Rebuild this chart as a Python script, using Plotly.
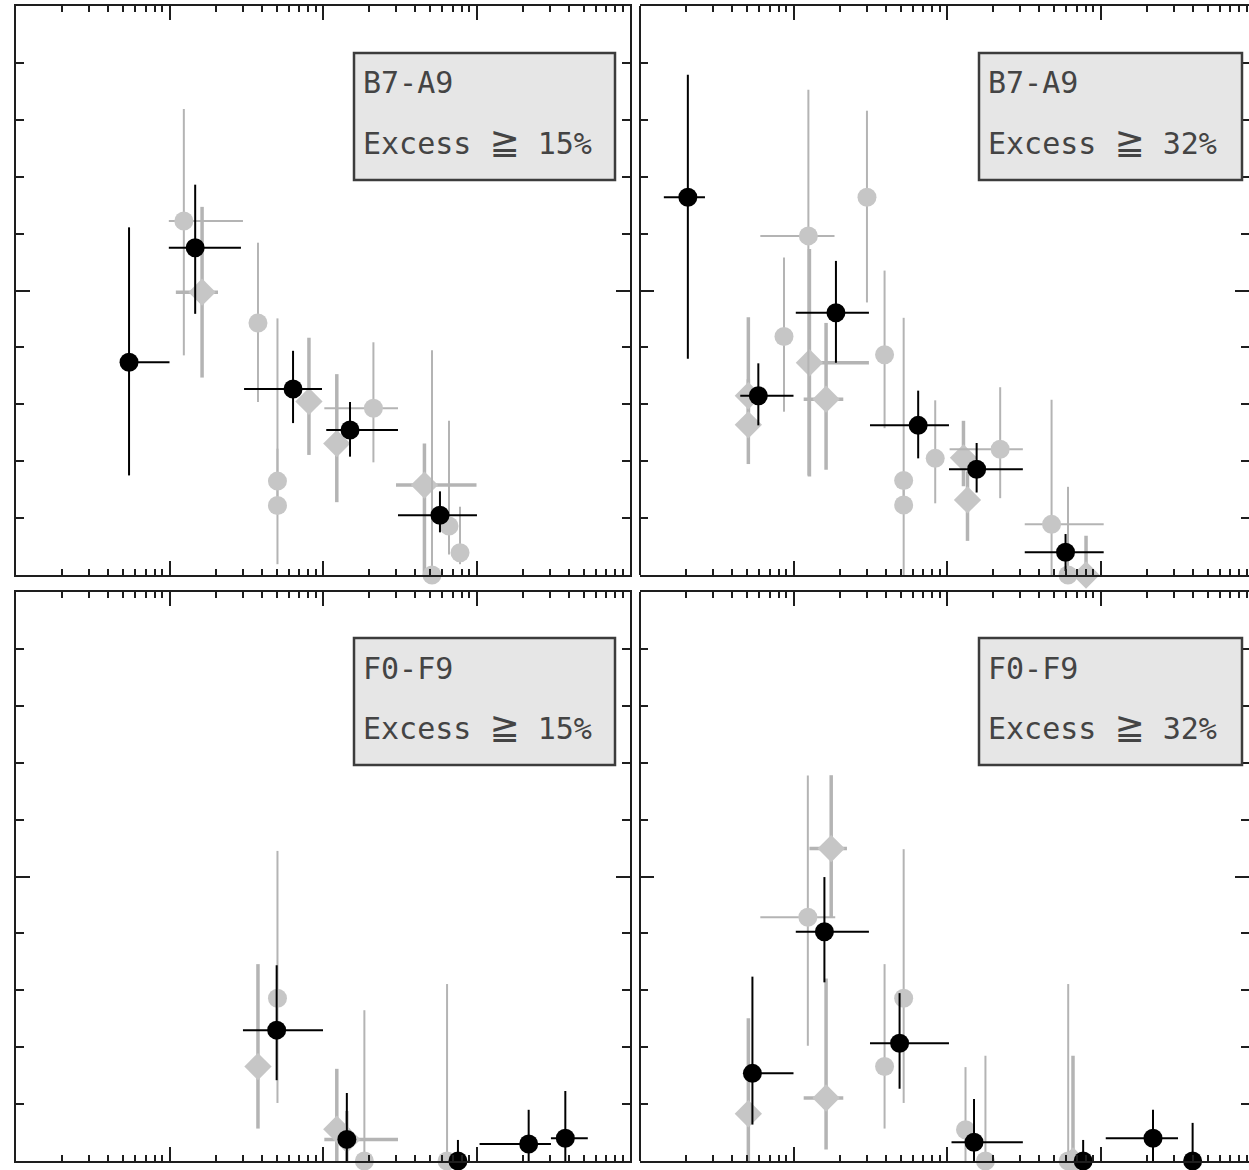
import plotly.graph_objects as go
from plotly.subplots import make_subplots

# ---------------- data: fraction of stars with excess vs. age (Myr) ----------------
# Panel 1: B7-A9, Excess >= 15%
b15_age      = [5.45, 14.7, 63.8, 150, 578]
b15_frac     = [0.374, 0.575, 0.327, 0.255, 0.105]
b15_age_lo   = [5.3, 9.9, 30.6, 105, 308]
b15_age_hi   = [10.0, 29.2, 98.5, 308, 1007]
b15_err_up   = [0.237, 0.111, 0.067, 0.049, 0.042]
b15_err_dn   = [0.199, 0.116, 0.060, 0.047, 0.030]

b15_lit1_age    = [12.4, 37.7, 50.5, 50.5, 213, 513, 662, 781]
b15_lit1_frac   = [0.622, 0.443, 0.165, 0.122, 0.293, 0.0, 0.086, 0.039]
b15_lit1_age_lo = [9.9, 37.7, 50.5, 50.5, 102, 513, 662, 781]
b15_lit1_age_hi = [30.1, 37.7, 50.5, 50.5, 308, 513, 662, 781]
b15_lit1_up     = [0.197, 0.141, 0.286, 0.10, 0.116, 0.395, 0.185, 0.081]
b15_lit1_dn     = [0.236, 0.139, 0.05, 0.103, 0.095, 0.0, 0.05, 0.02]

b15_lit2_age    = [16.3, 81, 123, 458]
b15_lit2_frac   = [0.497, 0.305, 0.231, 0.158]
b15_lit2_age_lo = [11.0, 81, 123, 299]
b15_lit2_age_hi = [20.7, 81, 123, 1000]
b15_lit2_up     = [0.150, 0.112, 0.122, 0.073]
b15_lit2_dn     = [0.150, 0.094, 0.103, 0.158]

# Panel 2: B7-A9, Excess >= 32%
b32_age      = [2.05, 5.9, 18.9, 64.9, 156, 592]
b32_frac     = [0.664, 0.315, 0.461, 0.263, 0.186, 0.040]
b32_age_lo   = [1.43, 4.5, 10.35, 31.5, 103, 321]
b32_age_hi   = [2.65, 10.0, 31.0, 103, 312, 1049]
b32_err_up   = [0.215, 0.057, 0.091, 0.061, 0.046, 0.032]
b32_err_dn   = [0.284, 0.052, 0.088, 0.058, 0.041, 0.033]

b32_lit1_age    = [8.67, 12.5, 30.1, 39.2, 52.2, 52.2, 83.8, 222, 480, 614]
b32_lit1_frac   = [0.419, 0.596, 0.664, 0.387, 0.166, 0.123, 0.205, 0.221, 0.089, 0.0]
b32_lit1_age_lo = [8.67, 6.08, 30.1, 39.2, 52.2, 52.2, 83.8, 104, 321, 614]
b32_lit1_age_hi = [8.67, 18.5, 30.1, 39.2, 52.2, 52.2, 83.8, 312, 1049, 614]
b32_lit1_up     = [0.139, 0.257, 0.152, 0.148, 0.286, 0.03, 0.102, 0.109, 0.219, 0.155]
b32_lit1_dn     = [0.132, 0.421, 0.185, 0.129, 0.03, 0.123, 0.079, 0.086, 0.089, 0.0]

b32_lit2_age    = [5.08, 5.08, 12.7, 16.3, 128, 136, 805]
b32_lit2_frac   = [0.315, 0.264, 0.373, 0.309, 0.206, 0.132, 0.0]
b32_lit2_age_lo = [4.6, 5.08, 12.7, 11.65, 128, 136, 805]
b32_lit2_age_hi = [5.6, 5.08, 31.0, 21.1, 128, 136, 805]
b32_lit2_up     = [0.138, 0.08, 0.20, 0.134, 0.065, 0.05, 0.069]
b32_lit2_dn     = [0.05, 0.069, 0.20, 0.124, 0.05, 0.072, 0.0]

# Panel 3: F0-F9, Excess >= 15%
f15_age      = [49.9, 143, 757, 2187, 3790]
f15_frac     = [0.230, 0.038, 0.0, 0.030, 0.040]
f15_age_lo   = [30.1, 143, 757, 1047, 3055]
f15_age_hi   = [100, 143, 757, 3055, 5310]
f15_err_up   = [0.114, 0.0815, 0.037, 0.060, 0.083]
f15_err_dn   = [0.088, 0.038, 0.0, 0.030, 0.040]

f15_lit1_age    = [50.5, 186, 643]
f15_lit1_frac   = [0.286, 0.0, 0.0]
f15_lit1_age_lo = [50.5, 186, 643]
f15_lit1_age_hi = [50.5, 186, 643]
f15_lit1_up     = [0.259, 0.265, 0.311]
f15_lit1_dn     = [0.184, 0.0, 0.0]

f15_lit2_age    = [37.7, 123, 143]
f15_lit2_frac   = [0.166, 0.056, 0.038]
f15_lit2_age_lo = [37.7, 123, 102]
f15_lit2_age_hi = [37.7, 123, 308]
f15_lit2_up     = [0.18, 0.106, 0.05]
f15_lit2_dn     = [0.109, 0.056, 0.038]

# Panel 4: F0-F9, Excess >= 32%
f32_age      = [5.4, 15.9, 49.1, 150, 771, 2198, 3982]
f32_frac     = [0.154, 0.403, 0.207, 0.033, 0.0, 0.040, 0.0]
f32_age_lo   = [5.3, 10.35, 31.5, 107, 771, 1082, 3982]
f32_age_hi   = [10.0, 31.0, 103, 312, 771, 3199, 3982]
f32_err_up   = [0.170, 0.096, 0.088, 0.076, 0.037, 0.050, 0.067]
f32_err_dn   = [0.09, 0.089, 0.080, 0.033, 0.0, 0.040, 0.0]

f32_lit1_age    = [12.4, 39.2, 52.2, 132, 178, 616]
f32_lit1_frac   = [0.4285, 0.166, 0.286, 0.055, 0.0, 0.0]
f32_lit1_age_lo = [6.08, 39.2, 52.2, 132, 178, 616]
f32_lit1_age_hi = [18.7, 39.2, 52.2, 132, 178, 616]
f32_lit1_up     = [0.249, 0.18, 0.262, 0.110, 0.185, 0.311]
f32_lit1_dn     = [0.226, 0.109, 0.184, 0.055, 0.0, 0.0]

f32_lit2_age    = [5.08, 17.6, 16.3, 662]
f32_lit2_frac   = [0.083, 0.549, 0.1107, 0.0]
f32_lit2_age_lo = [4.6, 12.7, 11.65, 662]
f32_lit2_age_hi = [5.6, 22.3, 21.1, 662]
f32_lit2_up     = [0.168, 0.129, 0.21, 0.185]
f32_lit2_dn     = [0.083, 0.122, 0.0905, 0.0]

GE = '<span style="font-family:DejaVu Sans;font-size:36px">≧</span>'
panel_labels = [("B7-A9", "Excess " + GE + " 15%"), ("B7-A9", "Excess " + GE + " 32%"),
                ("F0-F9", "Excess " + GE + " 15%"), ("F0-F9", "Excess " + GE + " 32%")]

# ---------------- layout geometry (pixels) ----------------
W, H = 1249, 1170
COLS = [(16, 630), (640, 1249)]
ROWS = [(6, 575), (592, 1161)]
DECADE_PX = 153.5

BLACK = "#000000"
GREY_MK = "#c6c6c6"
GREY_ERR = "#b4b4b4"
FRAME = "#1e1e1e"

fig = make_subplots(rows=2, cols=2)


def add_series(row, col, age, frac, lo, hi, up, dn, color, ecolor, symbol, size, ethick):
    fig.add_trace(go.Scatter(
        x=age, y=frac, mode="markers",
        marker=dict(color=color, size=size, symbol=symbol, line=dict(width=0)),
        error_x=dict(type="data", symmetric=False,
                     array=[h - a for h, a in zip(hi, age)],
                     arrayminus=[a - l for a, l in zip(age, lo)],
                     color=ecolor, thickness=ethick, width=0),
        error_y=dict(type="data", symmetric=False, array=up, arrayminus=dn,
                     color=ecolor, thickness=ethick, width=0),
        cliponaxis=False, showlegend=False, hoverinfo="x+y"),
        row=row, col=col)


panels = [
    (1, 1, (b15_age, b15_frac, b15_age_lo, b15_age_hi, b15_err_up, b15_err_dn),
     (b15_lit1_age, b15_lit1_frac, b15_lit1_age_lo, b15_lit1_age_hi, b15_lit1_up, b15_lit1_dn),
     (b15_lit2_age, b15_lit2_frac, b15_lit2_age_lo, b15_lit2_age_hi, b15_lit2_up, b15_lit2_dn)),
    (1, 2, (b32_age, b32_frac, b32_age_lo, b32_age_hi, b32_err_up, b32_err_dn),
     (b32_lit1_age, b32_lit1_frac, b32_lit1_age_lo, b32_lit1_age_hi, b32_lit1_up, b32_lit1_dn),
     (b32_lit2_age, b32_lit2_frac, b32_lit2_age_lo, b32_lit2_age_hi, b32_lit2_up, b32_lit2_dn)),
    (2, 1, (f15_age, f15_frac, f15_age_lo, f15_age_hi, f15_err_up, f15_err_dn),
     (f15_lit1_age, f15_lit1_frac, f15_lit1_age_lo, f15_lit1_age_hi, f15_lit1_up, f15_lit1_dn),
     (f15_lit2_age, f15_lit2_frac, f15_lit2_age_lo, f15_lit2_age_hi, f15_lit2_up, f15_lit2_dn)),
    (2, 2, (f32_age, f32_frac, f32_age_lo, f32_age_hi, f32_err_up, f32_err_dn),
     (f32_lit1_age, f32_lit1_frac, f32_lit1_age_lo, f32_lit1_age_hi, f32_lit1_up, f32_lit1_dn),
     (f32_lit2_age, f32_lit2_frac, f32_lit2_age_lo, f32_lit2_age_hi, f32_lit2_up, f32_lit2_dn)),
]

for row, col, main, lit1, lit2 in panels:
    add_series(row, col, *lit2, GREY_MK, GREY_ERR, "diamond", 21, 3.5)
    add_series(row, col, *lit1, GREY_MK, GREY_ERR, "circle", 19, 2.0)
    add_series(row, col, *main, BLACK, BLACK, "circle", 19, 2.0)

# ---------------- axes ----------------
major_x = [10 ** k for k in range(0, 5)]
minor_x = [m * 10 ** k for k in range(0, 4) for m in range(2, 10)]

for r, (ytop, ybot) in enumerate(ROWS, start=1):
    for c, (xl, xr) in enumerate(COLS, start=1):
        fig.update_xaxes(
            type="log", range=[0, (xr - xl) / DECADE_PX],
            domain=[xl / W, xr / W],
            showline=True, linecolor=FRAME, linewidth=2, mirror="ticks",
            ticks="inside", ticklen=14, tickwidth=1.5, tickcolor=FRAME,
            tickmode="array", tickvals=major_x, showticklabels=False,
            showgrid=False, zeroline=False,
            minor=dict(tickmode="array", tickvals=minor_x, ticks="inside",
                       ticklen=6, tickwidth=1.5, tickcolor=FRAME, showgrid=False),
            row=r, col=c)
        # the right-hand column runs off the page edge: its right frame line is not drawn
        fig.update_yaxes(
            range=[0, 1], domain=[1 - ybot / H, 1 - ytop / H],
            showline=(c == 1), linecolor=FRAME, linewidth=2, mirror="ticks",
            ticks="inside", ticklen=14, tickwidth=1.5, tickcolor=FRAME,
            tickmode="array", tickvals=[0, 0.5, 1], showticklabels=False,
            showgrid=False, zeroline=False,
            minor=dict(tick0=0, dtick=0.1, ticks="inside", ticklen=8,
                       tickwidth=1.5, tickcolor=FRAME, showgrid=False),
            row=r, col=c)

# left frame line of the right-hand panels
for xa, ya in (("x2", "y2"), ("x4", "y4")):
    fig.add_shape(type="line", xref=xa + " domain", yref=ya + " domain",
                  x0=0, x1=0, y0=0, y1=1, line=dict(color=FRAME, width=2), layer="above")

# ---------------- label boxes ----------------
BOX_X = [(354, 615), (979, 1242)]
BOX_Y = [(53, 180), (638, 765)]
for i, (line1, line2) in enumerate(panel_labels):
    r, c = divmod(i, 2)
    bx0, bx1 = BOX_X[c]
    by0, by1 = BOX_Y[r]
    fig.add_shape(type="rect", xref="paper", yref="paper",
                  x0=bx0 / W, x1=bx1 / W, y0=1 - by1 / H, y1=1 - by0 / H,
                  fillcolor="#e6e6e6", line=dict(color="#3c3c3c", width=2.5), layer="above")
    for txt, dy in ((line1, 30), (line2, 88)):
        fig.add_annotation(xref="paper", yref="paper", x=(bx0 + 7) / W, y=1 - (by0 + dy) / H,
                           xanchor="left", yanchor="middle", text=txt, showarrow=False,
                           font=dict(family="DejaVu Sans Mono", size=30, color="#444444"))

fig.update_layout(width=W, height=H, margin=dict(l=0, r=0, t=0, b=0),
                  paper_bgcolor="white", plot_bgcolor="white", showlegend=False)

fig.write_html("out.html")
